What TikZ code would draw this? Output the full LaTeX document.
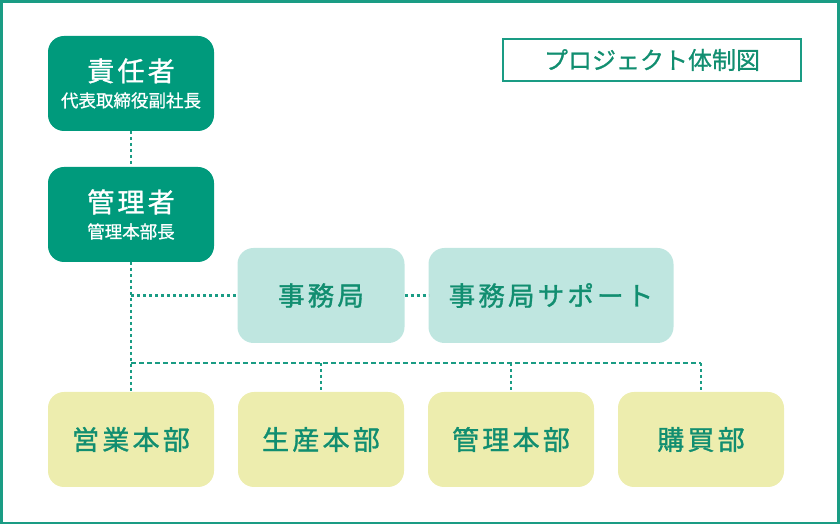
\documentclass[tikz,border=0pt]{standalone}
\usepackage{fontspec}
\setmainfont{Noto Sans CJK JP}[FakeBold=0.8]
\newfontfamily\jpwide[LetterSpace=12, FakeBold=1.2]{Noto Sans CJK JP}
\usetikzlibrary{positioning, calc}
\definecolor{orgDark}{HTML}{009A7C}
\definecolor{orgTeal}{HTML}{BFE6E0}
\definecolor{orgYellow}{HTML}{EDEDAE}
\definecolor{orgText}{HTML}{118E70}
\definecolor{orgLine}{HTML}{1A9C84}
\tikzset{
  boxTop/.style={rectangle, rounded corners=16pt, fill=orgDark, text=white,
                 align=center, minimum width=166pt, minimum height=95pt,
                 inner sep=0pt, outer sep=0pt},
  boxMid/.style={rectangle, rounded corners=16pt, fill=orgTeal, text=orgText,
                 align=center, minimum height=95pt, inner sep=0pt, outer sep=0pt,
                 font=\fontsize{26.5}{30}\jpwide},
  boxDept/.style={rectangle, rounded corners=16pt, fill=orgYellow, text=orgText,
                  align=center, minimum width=166pt, minimum height=95pt,
                  inner sep=0pt, outer sep=0pt, font=\fontsize{27}{30}\jpwide},
  linkA/.style={orgLine, line width=2.2pt, dash pattern=on 3pt off 3pt},
  linkB/.style={orgLine, line width=1.2pt, dash pattern=on 5pt off 3pt},
}
\begin{document}
\begin{tikzpicture}[node distance=24pt and 24pt]
    \useasboundingbox (0,0) rectangle (840pt,532pt);
    \draw[orgLine, line width=2.2pt] (1.5pt,9pt) rectangle (838.5pt,530.5pt);
    \node[draw=orgLine, line width=2pt, text=orgText, minimum width=298pt,
          minimum height=42pt, inner sep=0pt, font=\fontsize{24}{28}\selectfont]
          (title) at (652pt,472pt) {プロジェクト体制図};
    % upper chain
    \node[boxTop] (sekinin) at (131pt,448.5pt)
      {{\fontsize{27}{30}\jpwide 責任者}\\[8pt]{\fontsize{17.5}{20}\selectfont 代表取締役副社長}};
    \node[boxTop, below=36pt of sekinin] (kanrisha)
      {{\fontsize{27}{30}\jpwide 管理者}\\[8pt]{\fontsize{17.5}{20}\selectfont 管理本部長}};
    % departments
    \node[boxDept, below=130pt of kanrisha] (eigyo) {営業本部};
    \node[boxDept, right=of eigyo] (seisan) {生産本部};
    \node[boxDept, right=of seisan] (kanri) {管理本部};
    \node[boxDept, right=of kanri] (kobai) {購買部};
    % secretariat
    \node[boxMid, minimum width=167pt, above=49pt of seisan] (jimu) {事務局};
    \node[boxMid, minimum width=245pt, right=of jimu] (support) {事務局サポート};
    \coordinate (bus) at ([yshift=29pt]eigyo.north);
    \draw[linkA] (sekinin) -- (kanrisha);
    \draw[linkA] (kanrisha) -- (eigyo);
    \draw[linkA] (kanrisha.south |- jimu.west) -- (jimu.west);
    \draw[linkA] (jimu) -- (support);
    \draw[linkB] (bus) -- (bus -| kobai.north);
    \foreach \d in {seisan, kanri, kobai}
      \draw[linkA] (bus -| \d.north) -- (\d.north);
  \end{tikzpicture}
\end{document}
